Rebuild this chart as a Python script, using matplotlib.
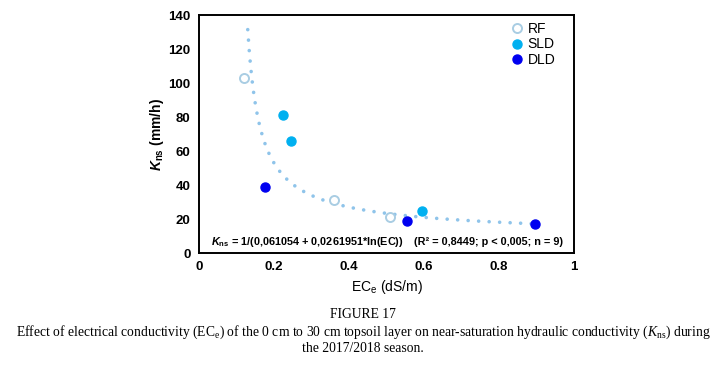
import numpy as np
import matplotlib
matplotlib.use("Agg")
import matplotlib.pyplot as plt

plt.rcParams['mathtext.fontset'] = 'custom'
plt.rcParams['mathtext.rm'] = 'Liberation Sans:bold'
plt.rcParams['mathtext.it'] = 'Liberation Sans:italic:bold'
plt.rcParams['mathtext.sf'] = 'Liberation Serif:italic'
plt.rcParams['font.family'] = ['Liberation Sans', 'DejaVu Sans']

# Data
rf_x = [0.12, 0.36, 0.51]
rf_y = [103, 31, 21]
sld_x = [0.225, 0.245, 0.595]
sld_y = [81, 66, 25]
dld_x = [0.177, 0.555, 0.895]
dld_y = [39, 19, 17]
fit_a = 0.061054
fit_b = 0.0261951
fit_range = (0.13, 0.89)
x_ticks = [0, 0.2, 0.4, 0.6, 0.8, 1]
x_labels = ["0", "0.2", "0.4", "0.6", "0.8", "1"]
y_ticks = [0, 20, 40, 60, 80, 100, 120, 140]

fig = plt.figure(figsize=(7.26, 3.65), dpi=100)
ax = fig.add_axes([0.2741, 0.3068, 0.5165, 0.6521])

xf = np.linspace(fit_range[0], fit_range[1], 400)
yf = 1.0 / (fit_a + fit_b * np.log(xf))
ax.plot(xf, yf, color='#8FC4EA', lw=2.6, linestyle=(0, (0.01, 2.9)),
        dash_capstyle='round', solid_capstyle='round', zorder=2)

ax.plot(rf_x, rf_y, 'o', ms=6.5, mfc='white', mec='#A9CDE3', mew=1.4, ls='none', label='RF', zorder=3)
ax.plot(sld_x, sld_y, 'o', ms=6.5, mfc='#00B0F0', mec='#00B0F0', ls='none', label='SLD', zorder=3)
ax.plot(dld_x, dld_y, 'o', ms=6.5, mfc='#0000F0', mec='#0000F0', ls='none', label='DLD', zorder=3)

ax.set_xlim(0, 1)
ax.set_ylim(0, 140)
ax.set_xticks(x_ticks)
ax.set_xticklabels(x_labels)
ax.set_yticks(y_ticks)
ax.tick_params(length=0, labelsize=9.5, pad=6)
for lab in ax.get_xticklabels() + ax.get_yticklabels():
    lab.set_fontweight('bold')
for s in ax.spines.values():
    s.set_linewidth(1.4)
    s.set_color('black')

ax.set_xlabel(r"EC$_\mathregular{e}$ (dS/m)", fontsize=10, labelpad=3)
ax.set_ylabel(r"$K_\mathregular{ns}$ (mm/h)", fontsize=10, fontweight='bold', labelpad=2)

leg = ax.legend(loc='upper left', bbox_to_anchor=(0.8, 1.01), frameon=False,
                fontsize=10, handletextpad=0.15, labelspacing=0.08, borderaxespad=0.3,
                handlelength=1.2)

ax.text(0.032, 0.047, r"$K_\mathregular{ns}$ = 1/(0,061054 + 0,0261951*ln(EC))",
        transform=ax.transAxes, fontsize=7.8, fontweight='bold', va='center', ha='left')
ax.text(0.573, 0.047, "(R² = 0,8449; p < 0,005; n = 9)",
        transform=ax.transAxes, fontsize=7.8, fontweight='bold', va='center', ha='left')

fig.text(0.5, 1 - 315/365, "FIGURE 17", family='Liberation Serif', fontsize=9.8,
         ha='center', va='center')
fig.text(0.5, 1 - 332/365,
         r"Effect of electrical conductivity (EC$_\mathregular{e}$) of the 0 cm to 30 cm topsoil layer on near-saturation hydraulic conductivity ($\mathsf{K}_\mathregular{ns}$) during",
         family='Liberation Serif', fontsize=9.8, ha='center', va='center')
fig.text(0.5, 1 - 348/365, "the 2017/2018 season.", family='Liberation Serif',
         fontsize=9.8, ha='center', va='center')

fig.savefig("out.png", dpi=100)
